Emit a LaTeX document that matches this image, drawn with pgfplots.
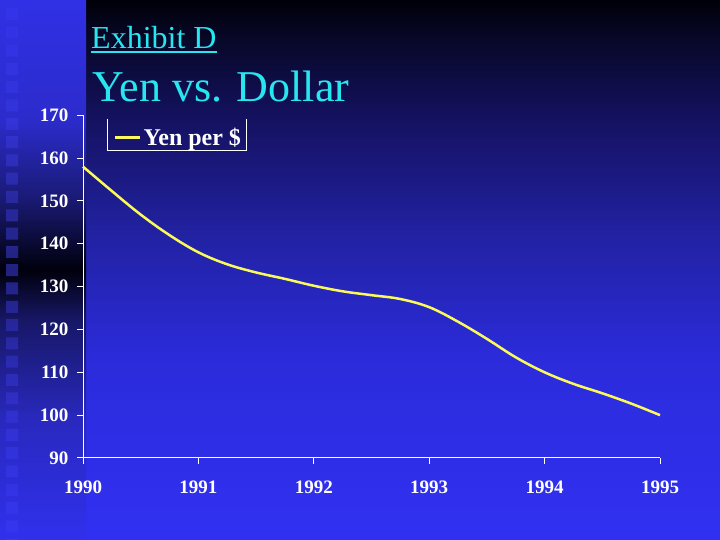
\documentclass[border=0pt]{standalone}
\usepackage{pgfplots}
\pgfplotsset{compat=1.18}
\usepackage{fontspec}
\setmainfont{Liberation Serif}
\definecolor{titlecyan}{RGB}{40,230,240}
\definecolor{lineyellow}{RGB}{250,250,90}
\pgfdeclareverticalshading{mainbg}{100bp}{rgb(0bp)=(0.19,0.19,0.95); rgb(25bp)=(0.19,0.19,0.95); rgb(41.7bp)=(0.17,0.17,0.86); rgb(53.7bp)=(0.13,0.13,0.63); rgb(63.9bp)=(0.08,0.07,0.38); rgb(71.3bp)=(0.03,0.03,0.16); rgb(75bp)=(0.0,0.0,0.03); rgb(100bp)=(0,0,0.03)}
\pgfdeclareverticalshading{stripbg}{100bp}{rgb(0bp)=(0.19,0.19,0.93); rgb(25bp)=(0.19,0.19,0.93); rgb(36.1bp)=(0.16,0.16,0.75); rgb(45.4bp)=(0.09,0.09,0.40); rgb(50bp)=(0.0,0.0,0.05); rgb(56.5bp)=(0.10,0.10,0.45); rgb(63.9bp)=(0.17,0.17,0.80); rgb(75bp)=(0.19,0.19,0.90); rgb(100bp)=(0.19,0.19,0.90)}
\pgfdeclareverticalshading{sqbg}{100bp}{rgb(0bp)=(0.21,0.21,0.95); rgb(25bp)=(0.21,0.21,0.95); rgb(36.1bp)=(0.19,0.19,0.82); rgb(45.4bp)=(0.15,0.15,0.60); rgb(50bp)=(0.13,0.13,0.50); rgb(56.5bp)=(0.16,0.16,0.62); rgb(63.9bp)=(0.20,0.20,0.85); rgb(75bp)=(0.20,0.20,0.92); rgb(100bp)=(0.20,0.20,0.92)}
\pgfplotstableread{
year yen
1990.00 158.0
1990.25 152.3
1990.50 146.8
1990.75 142.0
1991.00 138.0
1991.25 135.2
1991.50 133.3
1991.75 131.8
1992.00 130.2
1992.25 128.9
1992.50 128.0
1992.75 127.1
1993.00 125.2
1993.25 121.8
1993.50 117.8
1993.75 113.5
1994.00 110.0
1994.25 107.3
1994.50 105.1
1994.75 102.7
1995.00 100.0
}\yendata
\begin{document}
\begin{tikzpicture}
\useasboundingbox (0pt,0pt) rectangle (720pt,540pt);
\shade[shading=mainbg] (0pt,0pt) rectangle (720pt,540pt);
\shade[shading=stripbg] (0pt,0pt) rectangle (86pt,540pt);
\begin{scope}
\clip foreach \i in {0,...,29} {(6pt,{532pt-\i*18.3pt}) rectangle ++(12pt,-12pt)};
\shade[shading=sqbg] (0pt,0pt) rectangle (86pt,540pt);
\end{scope}
\begin{axis}[
  at={(83pt,82pt)}, anchor=south west,
  scale only axis, width=577pt, height=342.8pt,
  xmin=1990, xmax=1995, ymin=90, ymax=170,
  axis lines=left,
  axis line style={-, white, line width=1pt},
  xtick={1990,1991,1992,1993,1994,1995},
  ytick={90,100,110,120,130,140,150,160,170},
  xtick align=outside, ytick align=outside,
  major tick length=6pt,
  every tick/.append style={draw=white, line width=1pt},
  major tick style={draw=white, line width=1pt},
  /pgf/number format/assume math mode=true,
  ticklabel style={font=\bfseries\fontsize{19}{19}\selectfont, text=white},
  xticklabel style={/pgf/number format/1000 sep=, yshift=-13pt},
  yticklabel style={xshift=-5pt},
  clip=false,
  legend style={at={(0.0485,0.974)}, anchor=north west, draw=none, fill=none,
    text=white, font=\bfseries\fontsize{24}{24}\selectfont},
  legend image code/.code={\draw[#1] (0pt,0pt) -- (25pt,0pt);},
]
\addplot[lineyellow, line width=2.5pt, smooth, tension=0.6] table[x=year, y=yen] {\yendata};
\addlegendentry{Yen per \$}
\draw[white, line width=1pt] (rel axis cs:0.0416,0.9889) -- (rel axis cs:0.0416,0.8956) -- (rel axis cs:0.2842,0.8956) -- (rel axis cs:0.2842,0.9889);
\end{axis}
\node[anchor=base west, inner sep=0pt, text=titlecyan, font=\fontsize{32}{32}\selectfont] at (91pt,491pt) {Exhibit D};
\draw[titlecyan, line width=2pt] (91pt,488pt) -- (217pt,488pt);
\node[anchor=base west, inner sep=0pt, text=titlecyan, font=\fontsize{44}{44}\selectfont] at (92pt,438.5pt) {Yen vs. Dollar};
\end{tikzpicture}
\end{document}
